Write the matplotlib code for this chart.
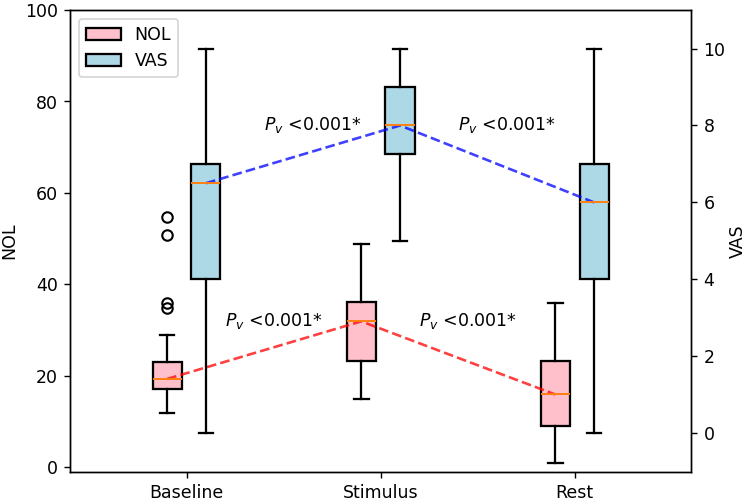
import numpy as np
import matplotlib
matplotlib.use("Agg")
import matplotlib.pyplot as plt
from matplotlib.patches import Patch

# summary values
conditions = ["Baseline", "Stimulus", "Rest"]

nol_med = [19.3, 31.9, 15.9]
nol_q1 = [17.1, 23.3, 9.0]
nol_q3 = [22.9, 36.2, 23.2]
nol_lo = [11.8, 14.9, 1.0]
nol_hi = [28.9, 48.9, 35.9]
nol_fliers = [[54.8, 50.9, 35.9, 34.8], [], []]

vas_med = [6.5, 8.0, 6.0]
vas_q1 = [4.0, 7.25, 4.0]
vas_q3 = [7.0, 9.0, 7.0]
vas_lo = [0.0, 5.0, 0.0]
vas_hi = [10.0, 10.0, 10.0]

p_text = r"$P_v$ <0.001*"


def stats(med, q1, q3, lo, hi, fl=None):
    out = []
    for i in range(len(med)):
        out.append(dict(med=med[i], q1=q1[i], q3=q3[i], whislo=lo[i],
                        whishi=hi[i], fliers=fl[i] if fl else []))
    return out


x = np.arange(1, len(conditions) + 1)
off = 0.1
w = 0.15

fig, ax = plt.subplots(figsize=(6.0, 4.016), dpi=125.5)
ax2 = ax.twinx()

lw = 1.3
mprops = dict(color="#ff7f0e", linewidth=1.1)
fprops = dict(marker="o", markerfacecolor="none", markeredgecolor="black",
              markersize=6, markeredgewidth=1.2)
kw = dict(widths=w, patch_artist=True, medianprops=mprops, flierprops=fprops,
          boxprops=dict(linewidth=lw), whiskerprops=dict(linewidth=lw),
          capprops=dict(linewidth=lw), manage_ticks=False)

b1 = ax.bxp(stats(nol_med, nol_q1, nol_q3, nol_lo, nol_hi, nol_fliers),
            positions=x - off, **kw)
for p in b1["boxes"]:
    p.set_facecolor("pink")

b2 = ax2.bxp(stats(vas_med, vas_q1, vas_q3, vas_lo, vas_hi),
             positions=x + off, **kw)
for p in b2["boxes"]:
    p.set_facecolor("lightblue")

ax.plot(x - off, nol_med, "--", color="red", alpha=0.75, lw=1.5)
ax2.plot(x + off, vas_med, "--", color="blue", alpha=0.75, lw=1.5)

for i in range(len(x) - 1):
    ax.text(x[i] + 0.45, nol_med[1], p_text, ha="center", va="center", fontsize=10)
    ax2.text(x[i] + 0.65, vas_med[1], p_text, ha="center", va="center", fontsize=10)

ax.set_xlim(0.4, 3.6)
ax.set_ylim(-1, 100)
ax2.set_ylim(-1, 11)
ax.set_xticks(x)
ax.set_xticklabels(conditions)
ax.set_yticks([0, 20, 40, 60, 80, 100])
ax2.set_yticks([0, 2, 4, 6, 8, 10])
ax.set_ylabel("NOL")
ax2.set_ylabel("VAS", labelpad=2)

handles = [Patch(facecolor="pink", edgecolor="black", label="NOL", linewidth=lw),
           Patch(facecolor="lightblue", edgecolor="black", label="VAS", linewidth=lw)]
ax.legend(handles=handles, loc="upper left")

fig.subplots_adjust(left=0.093, right=0.918, top=0.98, bottom=0.064)
fig.savefig("out.png")
